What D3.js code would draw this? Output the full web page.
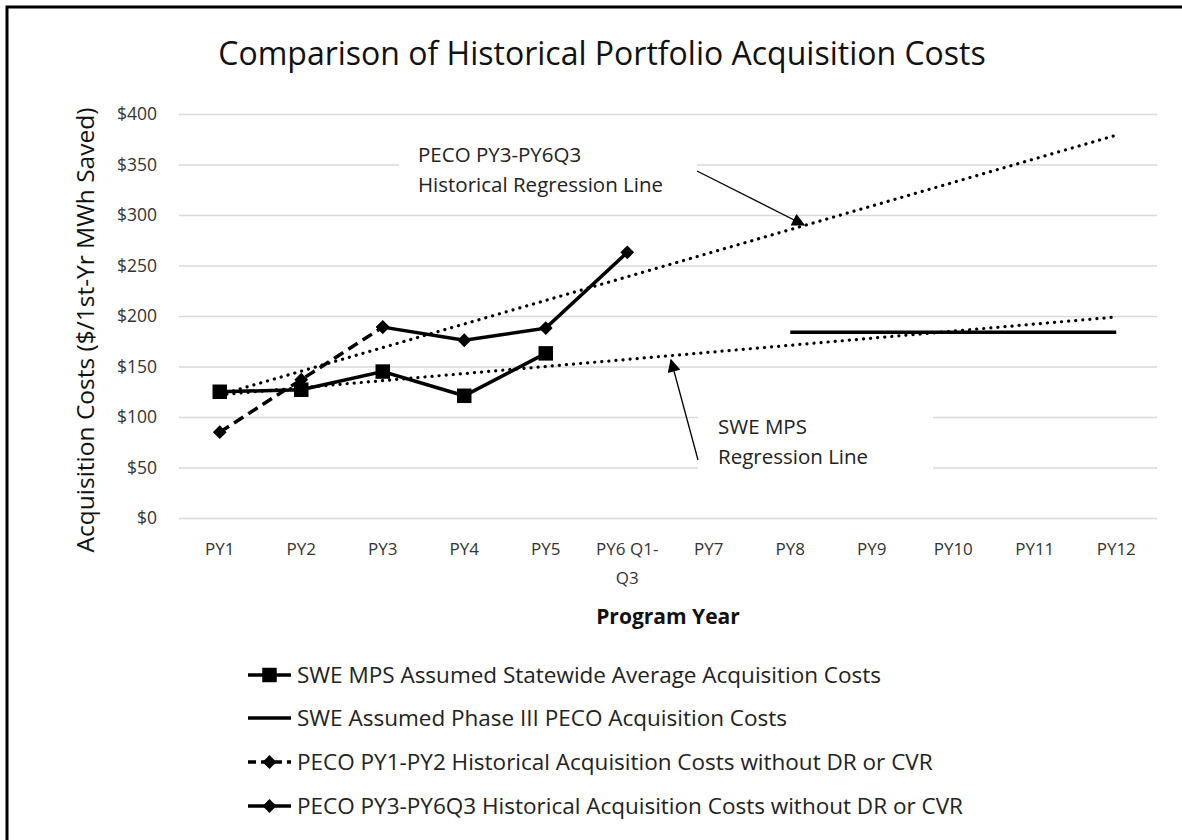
<!DOCTYPE html>
<html>
<head>
<meta charset="utf-8">
<script src="https://cdn.jsdelivr.net/npm/d3@7"></script>
<style>
  html, body { margin: 0; background: #fff; overflow: hidden; }
  svg { display: block; overflow: hidden; font-family: "Open Sans", Lato, sans-serif; }
</style>
</head>
<body>
<svg id="chart"></svg>
<script>
// categories and tick labels (PY6 wraps onto two lines)
const categories = ["PY1", "PY2", "PY3", "PY4", "PY5", "PY6 Q1-Q3", "PY7", "PY8", "PY9", "PY10", "PY11", "PY12"];
const tickLines = [["PY1"], ["PY2"], ["PY3"], ["PY4"], ["PY5"], ["PY6 Q1-", "Q3"], ["PY7"], ["PY8"], ["PY9"], ["PY10"], ["PY11"], ["PY12"]];
const yTicks = [0, 50, 100, 150, 200, 250, 300, 350, 400];

// series values
const sweMpsCats = ["PY1", "PY2", "PY3", "PY4", "PY5"];
const sweMpsValues = [125, 127, 145, 121, 163];

const phase3Cats = ["PY8", "PY9", "PY10", "PY11", "PY12"];
const phase3Values = [184, 184, 184, 184, 184];

const pecoEarlyCats = ["PY1", "PY2", "PY3"];
const pecoEarlyValues = [85, 137, 189];

const pecoLateCats = ["PY3", "PY4", "PY5", "PY6 Q1-Q3"];
const pecoLateValues = [189, 176, 188, 263];

// regression lines, start and end values
const trendCats = ["PY1", "PY12"];
const pecoTrendValues = [122, 379];
const sweTrendValues = [122, 199];

const legendLabels = [
    "SWE MPS Assumed Statewide Average Acquisition Costs",
    "SWE Assumed Phase III PECO Acquisition Costs",
    "PECO PY1-PY2 Historical Acquisition Costs without DR or CVR",
    "PECO PY3-PY6Q3 Historical Acquisition Costs without DR or CVR"
];

function main() {
    const width = 1182;
    const height = 840;
    const plot = { left: 179, right: 1157, top: 114, bottom: 518 };

    const svg = d3.select("#chart")
        .attr("width", width)
        .attr("height", height);

    // outer frame: only the top and left edges are in the picture
    svg.append("path")
        .attr("d", `M7,${height}V7H${width}`)
        .attr("fill", "none")
        .attr("stroke", "#000")
        .attr("stroke-width", 3);

    const x = d3.scaleBand()
        .domain(categories)
        .range([plot.left, plot.right]);
    const y = d3.scaleLinear()
        .domain([0, 400])
        .range([plot.bottom, plot.top]);
    const cx = d => x(d) + x.bandwidth() / 2;

    // title
    svg.append("text")
        .attr("x", 602).attr("y", 65)
        .attr("text-anchor", "middle")
        .attr("font-size", 32)
        .attr("fill", "#111")
        .text("Comparison of Historical Portfolio Acquisition Costs");

    // gridlines
    svg.append("g")
        .attr("transform", `translate(${plot.left},0)`)
        .call(d3.axisLeft(y).tickValues(yTicks).tickSize(-(plot.right - plot.left)).tickFormat(""))
        .call(g => g.select(".domain").remove())
        .call(g => g.selectAll("line").attr("stroke", "#d9d9d9").attr("stroke-width", 1.3));

    // y axis labels
    svg.append("g")
        .attr("transform", `translate(${plot.left},0)`)
        .call(d3.axisLeft(y).tickValues(yTicks).tickSize(0).tickPadding(22).tickFormat(d => "$" + d))
        .call(g => g.select(".domain").remove())
        .call(g => g.selectAll("text")
            .attr("font-size", 17.5)
            .attr("font-family", "'Open Sans', sans-serif")
            .attr("fill", "#333"));

    // x axis labels
    const xAxis = svg.append("g")
        .attr("transform", `translate(0,${plot.bottom})`)
        .call(d3.axisBottom(x).tickSize(0).tickPadding(0))
        .call(g => g.select(".domain").remove());
    xAxis.selectAll(".tick text")
        .attr("font-size", 17)
        .attr("font-family", "'Open Sans', sans-serif")
        .attr("fill", "#333")
        .attr("dy", null)
        .attr("y", 0)
        .text(null)
        .each(function (d) {
            const lines = tickLines[categories.indexOf(d)];
            lines.forEach((ln, i) => {
                d3.select(this).append("tspan")
                    .attr("x", 0)
                    .attr("y", 37 + i * 29)
                    .text(ln);
            });
        });

    // axis titles
    svg.append("text")
        .attr("transform", "translate(94,330) rotate(-90)")
        .attr("text-anchor", "middle")
        .attr("font-size", 24.5)
        .attr("fill", "#111")
        .text("Acquisition Costs ($/1st-Yr MWh Saved)");

    svg.append("text")
        .attr("x", (plot.left + plot.right) / 2)
        .attr("y", 624)
        .attr("text-anchor", "middle")
        .attr("font-size", 21)
        .attr("font-weight", "bold")
        .attr("fill", "#111")
        .text("Program Year");

    // annotation boxes hide the gridlines behind the labels
    const notes = [
        { x: 399, y: 140, w: 298, h: 62, tx: 418, lines: ["PECO PY3-PY6Q3", "Historical Regression Line"] },
        { x: 698, y: 412, w: 235, h: 64, tx: 718, lines: ["SWE MPS", "Regression Line"] }
    ];
    const noteG = svg.append("g");
    notes.forEach(n => {
        noteG.append("rect")
            .attr("x", n.x).attr("y", n.y)
            .attr("width", n.w).attr("height", n.h)
            .attr("fill", "#fff");
    });

    const line = d3.line().x(d => cx(d[0])).y(d => y(d[1]));
    const zip = (c, v) => c.map((d, i) => [d, v[i]]);

    // regression lines (dotted)
    [pecoTrendValues, sweTrendValues].forEach(vals => {
        svg.append("path")
            .datum(zip(trendCats, vals))
            .attr("d", line)
            .attr("fill", "none")
            .attr("stroke", "#000")
            .attr("stroke-width", 3.2)
            .attr("stroke-linecap", "round")
            .attr("stroke-dasharray", "0.1 7");
    });

    // phase III flat line
    svg.append("path")
        .datum(zip(phase3Cats, phase3Values))
        .attr("d", line)
        .attr("fill", "none")
        .attr("stroke", "#000")
        .attr("stroke-width", 3.5);

    // PECO PY1-PY2 dashed
    svg.append("path")
        .datum(zip(pecoEarlyCats, pecoEarlyValues))
        .attr("d", line)
        .attr("fill", "none")
        .attr("stroke", "#000")
        .attr("stroke-width", 3.5)
        .attr("stroke-dasharray", "11 6");

    // PECO PY3-PY6Q3 solid
    svg.append("path")
        .datum(zip(pecoLateCats, pecoLateValues))
        .attr("d", line)
        .attr("fill", "none")
        .attr("stroke", "#000")
        .attr("stroke-width", 3.5);

    // SWE MPS solid
    svg.append("path")
        .datum(zip(sweMpsCats, sweMpsValues))
        .attr("d", line)
        .attr("fill", "none")
        .attr("stroke", "#000")
        .attr("stroke-width", 3.5);

    const square = d3.symbol().type(d3.symbolSquare).size(210);
    // diamond = square turned 45 degrees
    const diamond = d3.symbol().type(d3.symbolSquare).size(95);

    svg.append("g").selectAll("path")
        .data(zip(pecoEarlyCats, pecoEarlyValues))
        .join("path")
        .attr("transform", d => `translate(${cx(d[0])},${y(d[1])}) rotate(45)`)
        .attr("d", diamond)
        .attr("fill", "#000");

    svg.append("g").selectAll("path")
        .data(zip(sweMpsCats, sweMpsValues))
        .join("path")
        .attr("transform", d => `translate(${cx(d[0])},${y(d[1])})`)
        .attr("d", square)
        .attr("fill", "#000");

    svg.append("g").selectAll("path")
        .data(zip(pecoLateCats, pecoLateValues))
        .join("path")
        .attr("transform", d => `translate(${cx(d[0])},${y(d[1])}) rotate(45)`)
        .attr("d", diamond)
        .attr("fill", "#000");

    // annotation texts
    notes.forEach(n => {
        n.lines.forEach((ln, i) => {
            noteG.append("text")
                .attr("x", n.tx)
                .attr("y", n.y + 22 + i * 30)
                .attr("font-size", 20.5)
                .attr("fill", "#222")
                .text(ln);
        });
    });

    // arrows
    svg.append("defs").append("marker")
        .attr("id", "arrow")
        .attr("viewBox", "0 0 10 10")
        .attr("refX", 9).attr("refY", 5)
        .attr("markerWidth", 14).attr("markerHeight", 13)
        .attr("markerUnits", "userSpaceOnUse")
        .attr("orient", "auto")
        .append("path")
        .attr("d", "M0,0L10,5L0,10z")
        .attr("fill", "#000");

    svg.append("line")
        .attr("x1", 697).attr("y1", 171)
        .attr("x2", 804).attr("y2", 225)
        .attr("stroke", "#000").attr("stroke-width", 1.3)
        .attr("marker-end", "url(#arrow)");
    svg.append("line")
        .attr("x1", 698).attr("y1", 460)
        .attr("x2", 671).attr("y2", 360)
        .attr("stroke", "#000").attr("stroke-width", 1.3)
        .attr("marker-end", "url(#arrow)");

    // legend
    const legendY = [675, 718, 762, 806];
    const legendStyles = [
        { dash: null, marker: square, rot: 0 },
        { dash: null, marker: null, rot: 0 },
        { dash: "8 5", marker: diamond, rot: 45 },
        { dash: null, marker: diamond, rot: 45 }
    ];
    const legend = svg.append("g");
    legendLabels.forEach((label, i) => {
        const row = legend.append("g").attr("transform", `translate(0,${legendY[i]})`);
        row.append("line")
            .attr("x1", 248).attr("x2", 291)
            .attr("stroke", "#000")
            .attr("stroke-width", 3.5)
            .attr("stroke-dasharray", legendStyles[i].dash);
        if (legendStyles[i].marker) {
            row.append("path")
                .attr("transform", `translate(269.5,0) rotate(${legendStyles[i].rot})`)
                .attr("d", legendStyles[i].marker)
                .attr("fill", "#000");
        }
        row.append("text")
            .attr("x", 297)
            .attr("y", 7.5)
            .attr("font-size", 22.5)
            .attr("fill", "#222")
            .text(label);
    });
}

main();
</script>
</body>
</html>
